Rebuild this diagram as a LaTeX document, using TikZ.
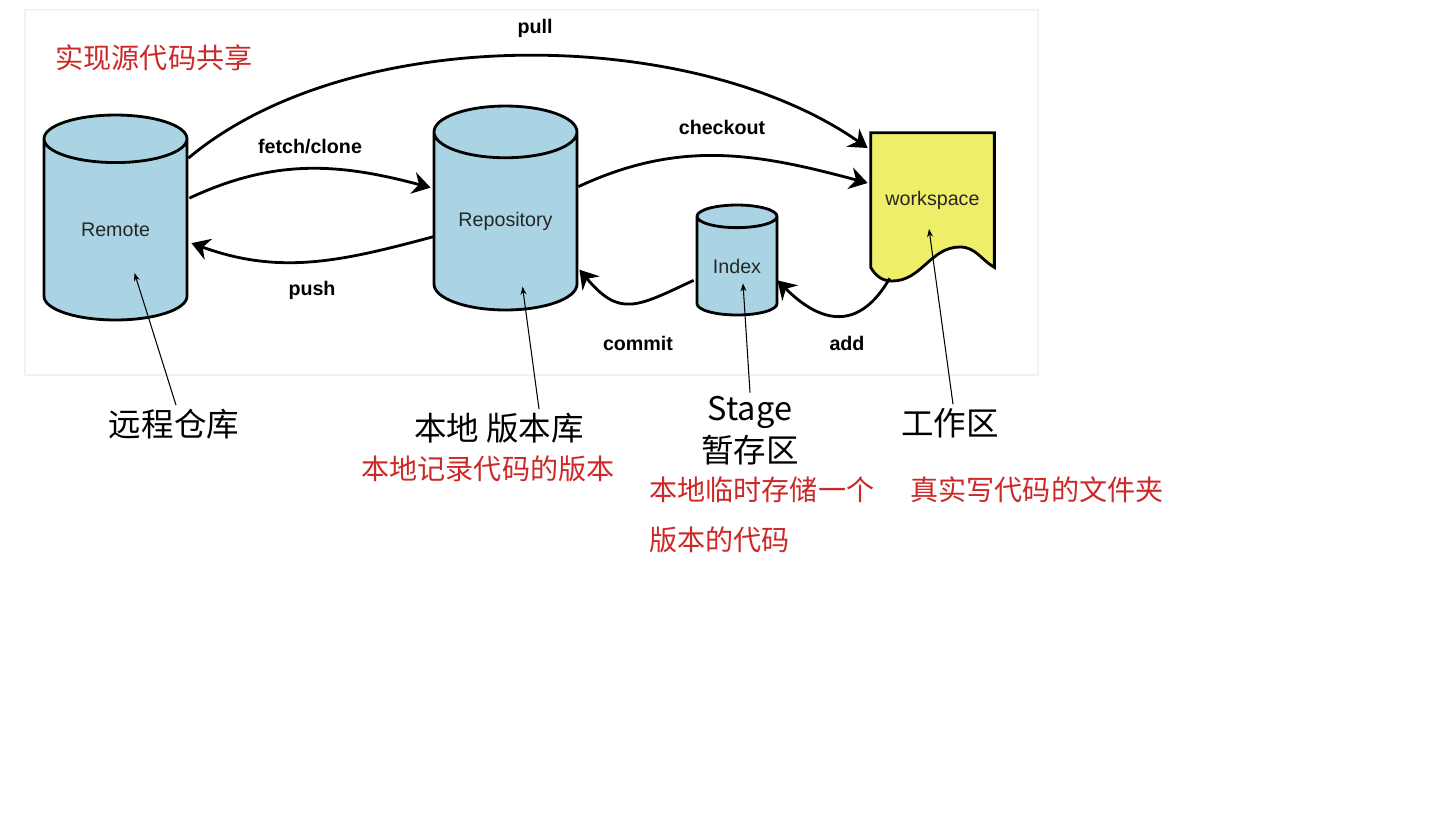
\documentclass[tikz,border=0pt]{standalone}
\usepackage{fontspec}
\setmainfont{Liberation Sans}
\newfontfamily\cjk{Noto Sans CJK SC}
\usetikzlibrary{positioning,arrows.meta,calc,shapes.geometric,backgrounds}
\definecolor{cylblue}{RGB}{170,212,228}
\definecolor{wsyellow}{RGB}{238,238,104}
\definecolor{notered}{RGB}{204,40,40}
\tikzset{
  >={Stealth[length=3.6mm,width=4.4mm,inset=1.2mm]},
  cyl/.style={cylinder,shape border rotate=90,draw=black,line width=1.6pt,
    fill=cylblue,text=black!85,font=\fontsize{11.2}{13}\selectfont,
    inner sep=0pt},
  wsbox/.style={rectangle,minimum width=2.46cm,minimum height=2.68cm,
    inner sep=0pt,text=black!85,font=\fontsize{11.2}{13}\selectfont},
  wsshape/.style={draw=black,line width=1.6pt,fill=wsyellow},
  flow/.style={->,line width=1.6pt},
  flowlbl/.style={font=\bfseries\fontsize{11.2}{13}\selectfont,inner sep=1pt},
  ptr/.style={-{Stealth[length=1.6mm,width=1.2mm]},line width=0.6pt},
  zhlbl/.style={font=\cjk\fontsize{18.5}{24}\selectfont,inner sep=2pt},
  notelbl/.style={text=notered,font=\cjk\fontsize{16}{28.5}\selectfont,
    inner sep=0pt},
  panel/.style={draw=black!5,line width=1.5pt},
}
\begin{document}
\begin{tikzpicture}[x=0.02cm,y=0.02cm]
  \useasboundingbox (0,0) rectangle (1449,-829);
  \node[cyl,minimum width=2.86cm,minimum height=4.1cm,shape aspect=0.69,
    anchor=shape center] (remote) at (115.5,-217.5) {Remote};
  \node[cyl,minimum width=2.86cm,minimum height=4.08cm,shape aspect=0.55,
    anchor=shape center] (repo) at (505.5,-208) {Repository};
  \node[cyl,minimum width=1.6cm,minimum height=2.2cm,shape aspect=0.47,
    anchor=shape center] (index) at (737,-260) {Index};
  \node[wsbox] (ws) at (932.5,-200) {workspace};
  \begin{scope}[on background layer]
    \draw[panel] (25,-10) rectangle (1038,-375);
    \draw[wsshape] (ws.north west) -- (ws.north east) -- (ws.south east)
      to[out=150,in=0] (960,-247) to[out=180,in=0] (892,-281)
      to[out=180,in=-60] (ws.south west) -- cycle;
  \end{scope}

  \node[flowlbl] (pulllbl) at (535,-28) {pull};
  \node[flowlbl] (fetchlbl) at (310,-147) {fetch/clone};
  \node[flowlbl] (pushlbl) at (312,-290) {push};
  \node[flowlbl] (checklbl) at (722,-127) {checkout};
  \node[flowlbl] (commitlbl) at (638,-343) {commit};
  \node[flowlbl] (addlbl) at (847,-343) {add};

  \draw[flow] ($(remote.east)+(0,72)$) to[out=40,in=145,looseness=0.8]
    ($(ws.west)+(-3,52)$);
  \draw[flow] ($(remote.east)+(1,32)$) to[out=25,in=165]
    ($(repo.west)+(-2,34)$);
  \draw[flow] ($(repo.west)+(1,-15)$) to[out=195,in=-20]
    ($(remote.east)+(3,-13)$);
  \draw[flow] ($(repo.east)+(0,35)$) to[out=25,in=165]
    ($(ws.west)+(-3,17)$);
  \draw[flow] ($(index.west)+(-2,-14)$) to[out=205,in=-50,looseness=1.4]
    ($(repo.east)+(1,-48)$);
  \draw[flow] ($(ws.south west)+(19,-11)$) to[out=-120,in=-45,looseness=1.4]
    ($(index.east)+(-1,-14)$);

  \node[notelbl,font=\cjk\fontsize{16}{18}\selectfont] (topnote)
    at (154,-58) {实现源代码共享};
  \node[zhlbl] (remotelbl) at (174,-424) {远程仓库};
  \node[zhlbl] (repolbl) at (499,-428) {本地 版本库};
  \node[notelbl] (reponote) at (488,-469) {本地记录代码的版本};
  \node[zhlbl,align=center] (indexlbl) at (750,-431) {Stage\\暂存区};
  \node[notelbl,align=left,anchor=west] (indexnote) at (649,-515)
    {本地临时存储一个\\版本的代码};
  \node[zhlbl] (wslbl) at (950,-423) {工作区};
  \node[notelbl] (wsnote) at (1037,-490) {真实写代码的文件夹};

  \draw[ptr] ($(remotelbl.north)+(2,0)$) -- ($(remote.center)+(19,-43)$);
  \draw[ptr] ($(repolbl.north)+(40,0)$) -- ($(repo.center)+(17,-65)$);
  \draw[ptr] (indexlbl.north) -- ($(index.center)+(6,-17)$);
  \draw[ptr] ($(wslbl.north)+(3,0)$) -- ($(ws.center)+(-3.5,-29)$);
\end{tikzpicture}
\end{document}
